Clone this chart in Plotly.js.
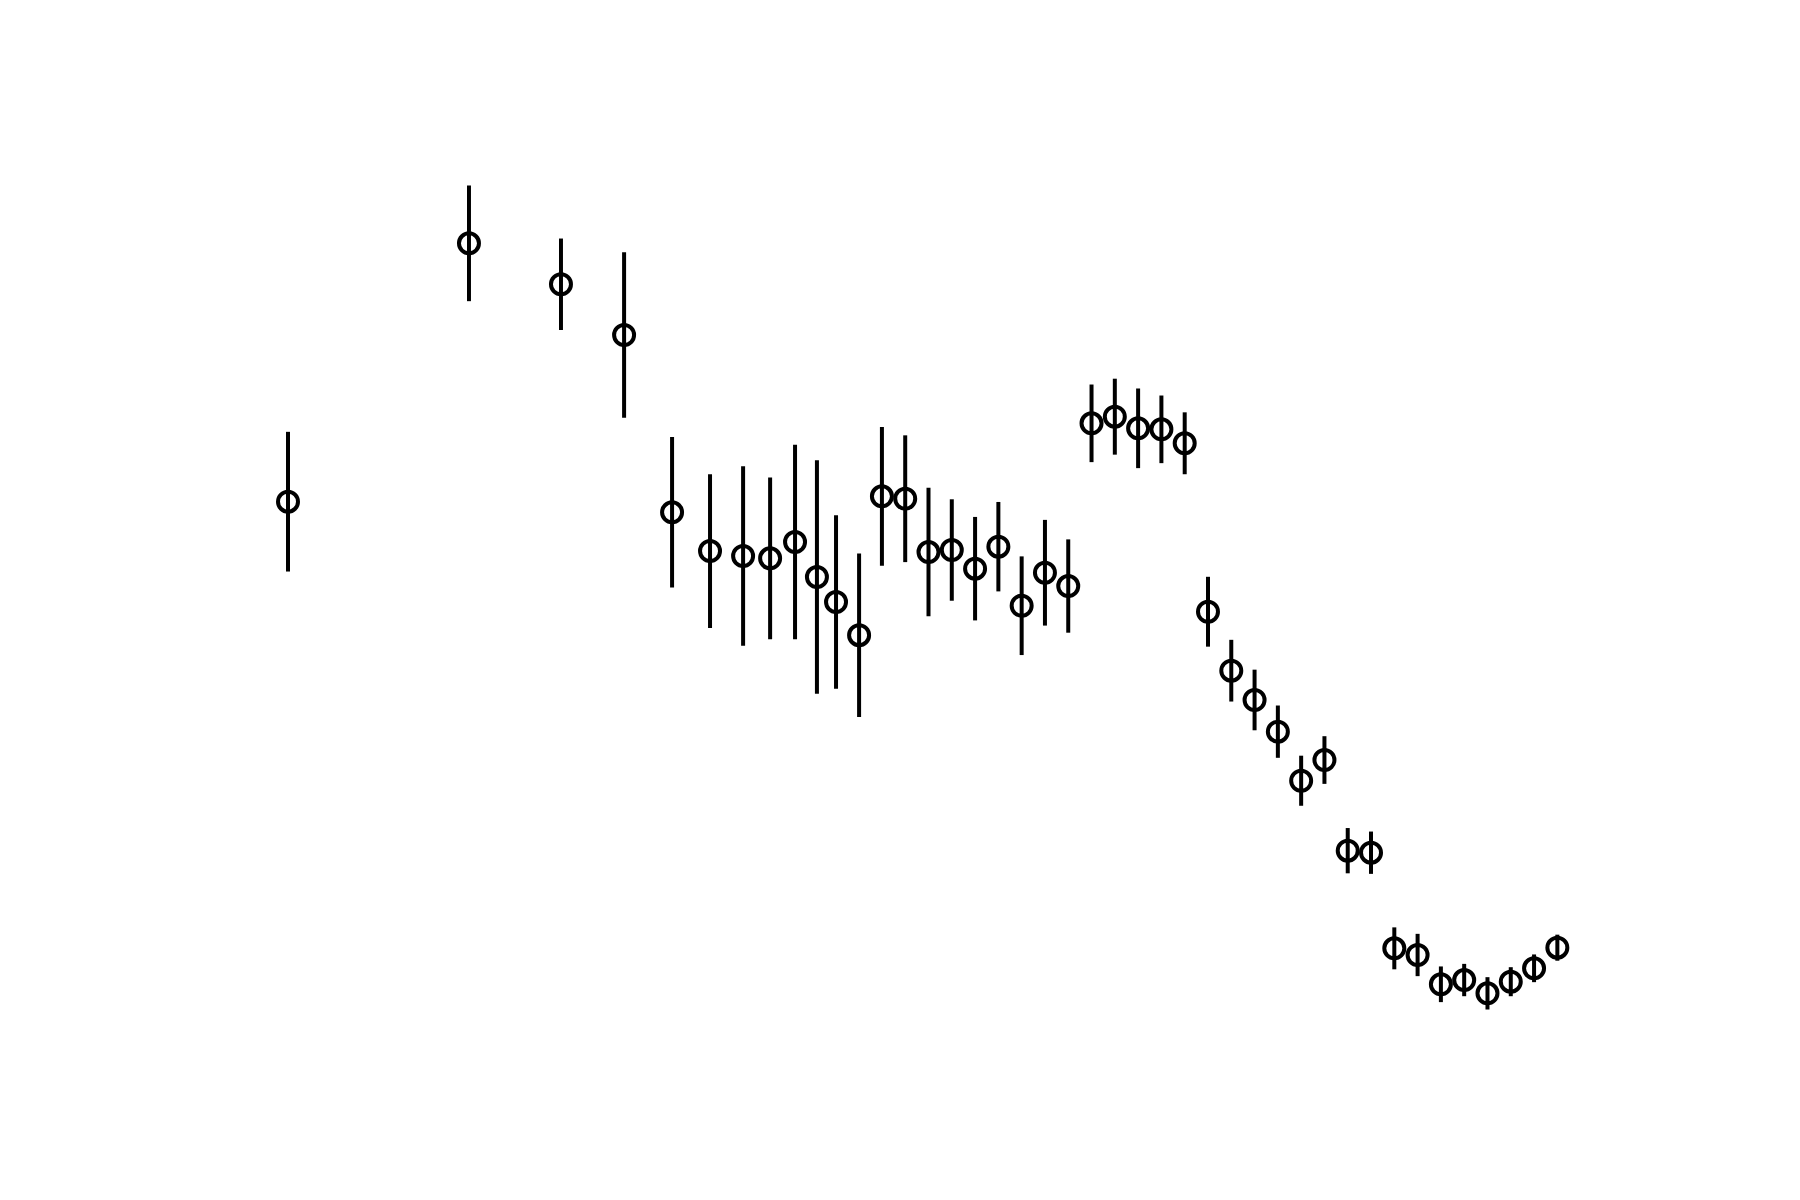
<!DOCTYPE html>
<html>
<head>
<meta charset="utf-8">
<script src="https://cdn.plot.ly/plotly-3.0.1.min.js"></script>
<style>html,body{margin:0;padding:0;background:#fff;}#chart{width:1800px;height:1200px;}</style>
</head>
<body>
<div id="chart"></div>
<script>
const xValues = [0.5, 8.27, 12.22, 14.93, 16.99, 18.62, 20.04, 21.20, 22.27, 23.21, 24.03, 25.02,
  26, 27, 28, 29, 30, 31, 32, 33, 34, 35, 36, 37, 38, 39, 40, 41, 42, 43, 44, 45, 46, 47, 48, 49, 50, 51, 52, 53, 54, 55];
const yValues = [61.29, 89.25, 84.82, 79.33, 60.14, 55.95, 55.41, 55.16, 56.93, 53.14, 50.43, 46.84,
  61.87, 61.61, 55.84, 56.06, 54.04, 56.42, 50.03, 53.60, 52.16, 69.77, 70.49, 69.23, 69.12, 67.61,
  49.38, 43.00, 39.83, 36.40, 31.09, 33.33, 23.52, 23.30, 12.95, 12.23, 9.06, 9.52, 8.08, 9.34, 10.79, 13.02];
const yErrors = [7.56, 6.26, 4.95, 8.95, 8.15, 8.32, 9.72, 8.75, 10.52, 12.64, 9.38, 8.84,
  7.51, 6.86, 6.95, 5.49, 5.60, 4.84, 5.34, 5.72, 5.05, 4.20, 4.11, 4.31, 3.66, 3.35,
  3.78, 3.34, 3.28, 2.83, 2.71, 2.58, 2.45, 2.29, 2.27, 2.29, 1.93, 1.75, 1.75, 1.57, 1.50, 1.41];

const trace = {
  x: xValues,
  y: yValues,
  type: 'scatter',
  mode: 'markers',
  marker: {symbol: 'circle-open', size: 20, color: '#000', line: {width: 4, color: '#000'}},
  error_y: {type: 'data', array: yErrors, visible: true, color: '#000', thickness: 4, width: 0},
  showlegend: false,
  hoverinfo: 'skip'
};

const hidden = {showgrid: false, zeroline: false, showticklabels: false, showline: false, ticks: ''};
const layout = {
  width: 1800, height: 1200,
  margin: {l: 225, r: 180, t: 144, b: 132, pad: 0},
  paper_bgcolor: '#fff', plot_bgcolor: '#fff',
  xaxis: Object.assign({range: [-2.205, 57.69]}, hidden),
  yaxis: Object.assign({range: [0, 100]}, hidden),
  showlegend: false
};
Plotly.newPlot('chart', [trace], layout, {staticPlot: true, displayModeBar: false});
</script>
</body>
</html>
